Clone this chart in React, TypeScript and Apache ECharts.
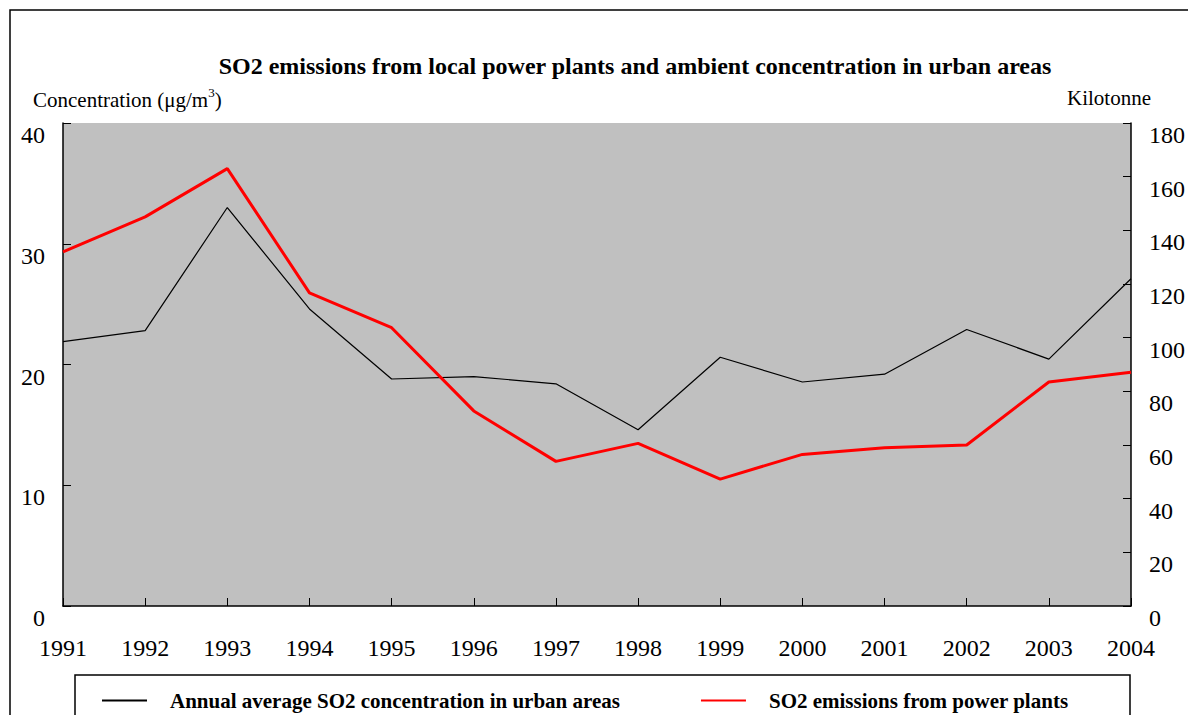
import React, { useEffect, useRef } from "react";
import * as echarts from "echarts";

const years = ["1991","1992","1993","1994","1995","1996","1997","1998","1999","2000","2001","2002","2003","2004"];
const concentration = [21.9, 22.8, 33.0, 24.6, 18.8, 19.0, 18.4, 14.6, 20.6, 18.55, 19.2, 22.9, 20.45, 27.1];
const emissions = [132, 145, 163, 116.7, 103.7, 72.7, 53.9, 60.6, 47.3, 56.5, 59.0, 60.0, 83.5, 87.1];
const seriesNames = ["Annual average SO2 concentration in urban areas", "SO2 emissions from power plants"];
const titleText = "SO2 emissions from local power plants and ambient concentration in urban areas";

const FONT = "Liberation Serif";

export default function App() {
  const ref = useRef<HTMLDivElement>(null);
  useEffect(() => {
    document.body.style.margin = "0";
    const chart = echarts.init(ref.current!, null, { renderer: "svg" });
    chart.setOption({
      animation: false,
      backgroundColor: "#ffffff",
      textStyle: { fontFamily: FONT, color: "#000" },
      title: {
        text: titleText,
        left: 630,
        textAlign: "center",
        top: 49,
        textStyle: { fontFamily: FONT, fontWeight: "bold", fontSize: 24, color: "#000" },
      },
      grid: {
        left: 63, right: 56, top: 123, bottom: 109,
        show: true, backgroundColor: "#C0C0C0", borderWidth: 0,
      },
      legend: {
        left: 97, top: 685,
        itemWidth: 45, itemHeight: 14, itemGap: 81,
        icon: "path://M0,6L45,6L45,8L0,8Z",
        textStyle: { fontFamily: FONT, fontWeight: "bold", fontSize: 21, color: "#000", padding: [0, 0, 0, 18] },
        data: seriesNames,
      },
      graphic: [
        { type: "rect", shape: { x: 10, y: 10, width: 1300, height: 900 }, style: { fill: "none", stroke: "#000", lineWidth: 1.5 }, silent: true },
        { type: "rect", shape: { x: 75, y: 675, width: 1055, height: 100 }, style: { fill: "none", stroke: "#000", lineWidth: 1.5 }, silent: true },
        {
          type: "text", left: 33, top: 86,
          style: {
            text: "{n|Concentration (μg/m}{s|3}{n|)}",
            rich: {
              n: { fontFamily: FONT, fontSize: 21, fill: "#000", verticalAlign: "bottom", lineHeight: 24 },
              s: { fontFamily: FONT, fontSize: 13, fill: "#000", verticalAlign: "top", lineHeight: 24 },
            },
          },
        },
        {
          type: "text", right: 37, top: 87,
          style: { text: "Kilotonne", fontFamily: FONT, fontSize: 21, fill: "#000" },
        },
      ],
      xAxis: {
        type: "category",
        data: years,
        boundaryGap: false,
        axisLine: { lineStyle: { color: "#000", width: 1.5 } },
        axisTick: { inside: true, length: 8, lineStyle: { color: "#000" } },
        axisLabel: { fontFamily: FONT, fontSize: 24, color: "#000", margin: 30, verticalAlign: "top" },
        splitLine: { show: false },
      },
      yAxis: [
        {
          type: "value", min: 0, max: 40, interval: 10,
          axisLine: { show: true, lineStyle: { color: "#000", width: 1.5 } },
          axisTick: { show: true, inside: true, length: 8, lineStyle: { color: "#000" } },
          axisLabel: { fontFamily: FONT, fontSize: 24, color: "#000", margin: 18, verticalAlign: "top" },
          splitLine: { show: false },
        },
        {
          type: "value", min: 0, max: 180, interval: 20,
          position: "right",
          axisLine: { show: true, lineStyle: { color: "#000", width: 1.5 } },
          axisTick: { show: true, inside: true, length: 8, lineStyle: { color: "#000" } },
          axisLabel: { fontFamily: FONT, fontSize: 24, color: "#000", margin: 18, verticalAlign: "top" },
          splitLine: { show: false },
        },
      ],
      series: [
        {
          name: seriesNames[0], type: "line", yAxisIndex: 0, data: concentration,
          showSymbol: false, symbol: "none",
          lineStyle: { color: "#000", width: 1.2 }, itemStyle: { color: "#000" },
        },
        {
          name: seriesNames[1], type: "line", yAxisIndex: 1, data: emissions,
          showSymbol: false, symbol: "none",
          lineStyle: { color: "#ff0000", width: 3 }, itemStyle: { color: "#ff0000" },
        },
      ],
    });
    return () => chart.dispose();
  }, []);
  return <div ref={ref} style={{ position: "fixed", left: 0, top: 0, width: 1188, height: 715 }} />;
}
